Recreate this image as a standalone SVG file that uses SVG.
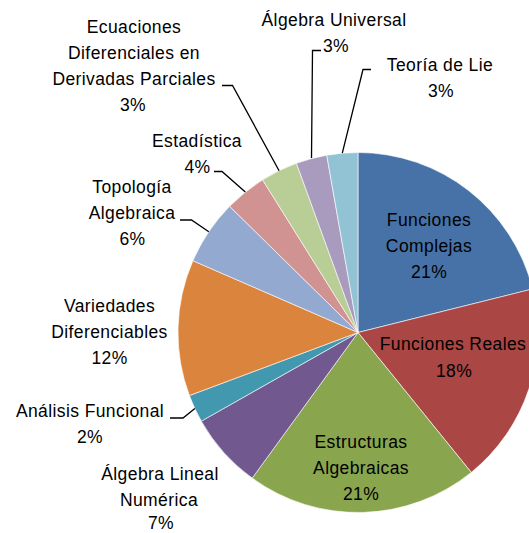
<svg xmlns="http://www.w3.org/2000/svg" width="529" height="533" viewBox="0 0 529 533">
<style>
text{font-family:"Liberation Sans",Arial,sans-serif;font-size:17.5px;letter-spacing:0.4px;fill:#000;text-anchor:middle}
.s{stroke:#fff;stroke-width:0.6}
.ld{fill:none;stroke:#000;stroke-width:1.3}
</style>
<rect width="529" height="533" fill="#fff"/>
<g id="slices">
<g id="funciones-complejas"><path class="s" fill="#4672A8" d="M358,332.5 L358,152.5 A180,180 0 0 1 532.65,288.96 Z"/><text x="429" y="226">Funciones</text><text x="429" y="252">Complejas</text><text x="429" y="278">21%</text></g>
<g id="funciones-reales"><path class="s" fill="#AA4644" d="M358,332.5 L532.65,288.96 A180,180 0 0 1 471.27,472.38 Z"/><text x="453" y="350">Funciones Reales</text><text x="454" y="376.5">18%</text></g>
<g id="estructuras-algebraicas"><path class="s" fill="#89A54E" d="M358,332.5 L471.27,472.38 A180,180 0 0 1 252.2,478.12 Z"/><text x="361" y="448">Estructuras</text><text x="361" y="474">Algebraicas</text><text x="361" y="500">21%</text></g>
<g id="algebra-lineal-numerica"><path class="s" fill="#71588F" d="M358,332.5 L252.2,478.12 A180,180 0 0 1 201.33,421.13 Z"/><text x="160" y="480">Álgebra Lineal</text><text x="159" y="506">Numérica</text><text x="161" y="529">7%</text></g>
<g id="analisis-funcional"><path class="s" fill="#4198AF" d="M358,332.5 L201.33,421.13 A180,180 0 0 1 189.39,395.54 Z"/><text x="90" y="416.5">Análisis Funcional</text><text x="90" y="442.5">2%</text></g>
<g id="variedades-diferenciables"><path class="s" fill="#DB843D" d="M358,332.5 L189.39,395.54 A180,180 0 0 1 192.92,260.73 Z"/><text x="109.5" y="311.5">Variedades</text><text x="109.5" y="337.5">Diferenciables</text><text x="109.5" y="364">12%</text></g>
<g id="topologia-algebraica"><path class="s" fill="#93A9CF" d="M358,332.5 L192.92,260.73 A180,180 0 0 1 229.61,206.34 Z"/><text x="132" y="193">Topología</text><text x="132" y="219">Algebraica</text><text x="132.5" y="245">6%</text></g>
<g id="estadistica"><path class="s" fill="#D19392" d="M358,332.5 L229.61,206.34 A180,180 0 0 1 262.62,179.86 Z"/><text x="197" y="146.5">Estadística</text><text x="197.5" y="172.5">4%</text></g>
<g id="ecuaciones-diferenciales"><path class="s" fill="#B9CD96" d="M358,332.5 L262.62,179.86 A180,180 0 0 1 296.44,163.35 Z"/><text x="134" y="33">Ecuaciones</text><text x="134" y="58.5">Diferenciales en</text><text x="134" y="85">Derivadas Parciales</text><text x="133" y="111">3%</text></g>
<g id="algebra-universal"><path class="s" fill="#A99BBD" d="M358,332.5 L296.44,163.35 A180,180 0 0 1 326.75,155.23 Z"/><text x="334" y="26">Álgebra Universal</text><text x="336" y="51.5">3%</text></g>
<g id="teoria-de-lie"><path class="s" fill="#92C3D4" d="M358,332.5 L326.75,155.23 A180,180 0 0 1 358,152.5 Z"/><text x="440" y="71">Teoría de Lie</text><text x="441" y="97">3%</text></g>
</g>
<g id="connectors">
<polyline class="ld" points="371,69.5 363,69.5 342.3,153.2"/>
<polyline class="ld" points="321,50.5 312.5,50.5 311.5,158"/>
<polyline class="ld" points="222,85.5 232.5,85.5 279.1,170.7"/>
<polyline class="ld" points="214,171.5 222,171.5 245.3,192.1"/>
<polyline class="ld" points="180,220 191.5,220 208.8,231.8"/>
<polyline class="ld" points="170,418 183,418 194.9,408.6"/>
</g>
</svg>
